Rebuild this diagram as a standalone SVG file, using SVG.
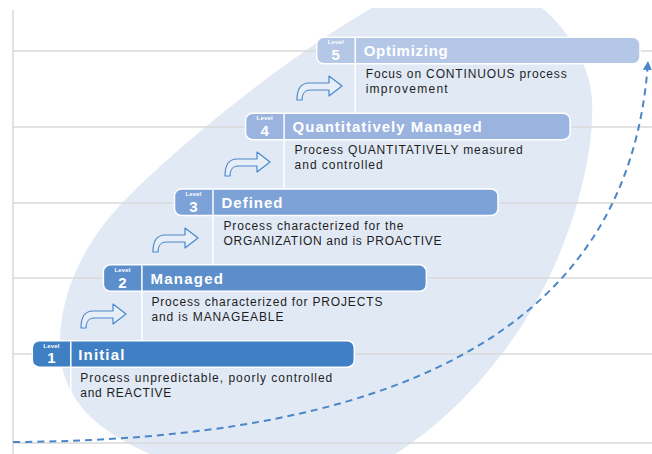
<svg xmlns="http://www.w3.org/2000/svg" width="652" height="454" viewBox="0 0 652 454">
<style>
  .grid{stroke:#D9D9D9;stroke-width:1.5;fill:none}
  .bar{stroke:#FFFFFF;stroke-width:1.5}
  .div{stroke:#FFFFFF;stroke-width:1.5}
  .lvl{font-family:"Liberation Sans",Arial,sans-serif;font-weight:bold;font-size:6px;fill:#FFFFFF;text-anchor:middle}
  .num{font-family:"Liberation Sans",Arial,sans-serif;font-weight:bold;font-size:15px;fill:#FFFFFF;text-anchor:middle}
  .ttl{font-family:"Liberation Sans",Arial,sans-serif;font-weight:bold;font-size:15px;fill:#FFFFFF}
  .dsc{font-family:"Liberation Sans",Arial,sans-serif;font-size:12px;fill:#1E1E1E}
  .hook{fill:#E8EEF8;stroke:#4A88CA;stroke-width:1.2;stroke-linejoin:round}
  .flow{fill:none;stroke:#4A86C8;stroke-width:2;stroke-dasharray:7 5}
</style>
<defs>
  <marker id="head" markerUnits="userSpaceOnUse" markerWidth="10" markerHeight="10" refX="9" refY="4.5" orient="auto">
    <path d="M0,0 L9,4.5 L0,9 Z" fill="#4A86C8"/>
  </marker>
  <path id="hookShape" d="M0,24 C0,13 4,7 12,7 L32,7 L32,0 L45,10 L32,20 L32,14 L13,14 C8,14 5,18 5,24 Z"/>
</defs>

<rect width="652" height="454" fill="#FFFFFF"/>
<g id="background">
  <path d="M372,8 L542,8 C562,24 590,60 592,100 C595,160 570,240 540,295 C505,360 450,420 395,454 L150,454 C100,432 62,402 60,350 C58,290 88,236 130,195 C185,140 290,55 372,8 Z" fill="#E1E9F5"/>
  <line class="grid" x1="13" y1="10" x2="13" y2="454"/>
  <line class="grid" x1="13" y1="51" x2="652" y2="51"/>
  <line class="grid" x1="13" y1="127" x2="652" y2="127"/>
  <line class="grid" x1="13" y1="203" x2="652" y2="203"/>
  <line class="grid" x1="13" y1="278" x2="652" y2="278"/>
  <line class="grid" x1="13" y1="354" x2="652" y2="354"/>
  <line class="grid" x1="13" y1="443" x2="652" y2="443"/>
</g>

<g id="connectors">
  <path class="flow" d="M13,442 C380,440 630,340 648,61" marker-end="url(#head)"/>
  <use href="#hookShape" class="hook" x="81" y="304"/>
  <use href="#hookShape" class="hook" x="153" y="228"/>
  <use href="#hookShape" class="hook" x="225" y="152"/>
  <use href="#hookShape" class="hook" x="297" y="76"/>
</g>

<g id="level1" transform="translate(32.3,340.7)">
  <rect class="bar" x="0" y="0" width="322" height="26.5" rx="7" fill="#3F7FC3"/>
  <line class="div" x1="38.5" y1="0.75" x2="38.5" y2="64"/>
  <text class="lvl" x="19" y="7" textLength="16">Level</text>
  <text class="num" x="19" y="22.8">1</text>
  <text class="ttl" x="46" y="19" textLength="46">Initial</text>
  <text class="dsc" x="48" y="41" textLength="252">Process unpredictable, poorly controlled</text>
  <text class="dsc" x="48" y="56" textLength="91">and REACTIVE</text>
</g>

<g id="level2" transform="translate(103.4,264.85)">
  <rect class="bar" x="0" y="0" width="323" height="26.5" rx="7" fill="#5C8ECB"/>
  <line class="div" x1="38.5" y1="0.75" x2="38.5" y2="75.85"/>
  <text class="lvl" x="19" y="7" textLength="16">Level</text>
  <text class="num" x="19" y="22.8">2</text>
  <text class="ttl" x="47" y="19" textLength="72.5">Managed</text>
  <text class="dsc" x="48" y="41" textLength="231">Process characterized for PROJECTS</text>
  <text class="dsc" x="48" y="56" textLength="132">and is MANAGEABLE</text>
</g>

<g id="level3" transform="translate(174.5,189)">
  <rect class="bar" x="0" y="0" width="323.5" height="26.5" rx="7" fill="#7DA2D7"/>
  <line class="div" x1="38.5" y1="0.75" x2="38.5" y2="75.85"/>
  <text class="lvl" x="19" y="7" textLength="16">Level</text>
  <text class="num" x="19" y="22.8">3</text>
  <text class="ttl" x="47" y="19" textLength="61">Defined</text>
  <text class="dsc" x="49" y="41" textLength="180">Process characterized for the</text>
  <text class="dsc" x="49" y="56" textLength="218">ORGANIZATION and is PROACTIVE</text>
</g>

<g id="level4" transform="translate(245.6,113.15)">
  <rect class="bar" x="0" y="0" width="324.5" height="26.5" rx="7" fill="#9AB3DF"/>
  <line class="div" x1="38.5" y1="0.75" x2="38.5" y2="75.85"/>
  <text class="lvl" x="19" y="7" textLength="16">Level</text>
  <text class="num" x="19" y="22.8">4</text>
  <text class="ttl" x="47" y="19" textLength="189">Quantitatively Managed</text>
  <text class="dsc" x="49" y="41" textLength="228">Process QUANTITATIVELY measured</text>
  <text class="dsc" x="49" y="56" textLength="88">and controlled</text>
</g>

<g id="level5" transform="translate(316.7,37.3)">
  <rect class="bar" x="0" y="0" width="323.3" height="26.5" rx="7" fill="#B4C7E7"/>
  <line class="div" x1="38.5" y1="0.75" x2="38.5" y2="75.85"/>
  <text class="lvl" x="19" y="7" textLength="16">Level</text>
  <text class="num" x="19" y="22.8">5</text>
  <text class="ttl" x="47" y="19" textLength="84">Optimizing</text>
  <text class="dsc" x="49" y="41" textLength="201">Focus on CONTINUOUS process</text>
  <text class="dsc" x="49" y="56" textLength="82">improvement</text>
</g>
</svg>
